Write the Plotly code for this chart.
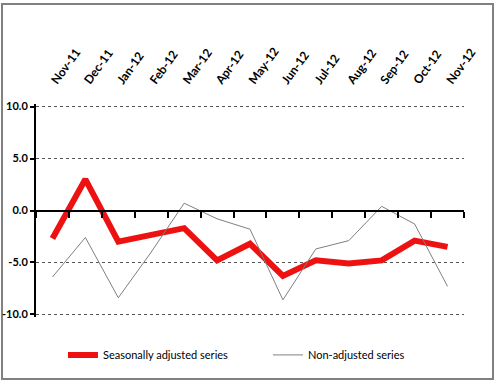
import plotly.graph_objects as go

months = ["Nov-11", "Dec-11", "Jan-12", "Feb-12", "Mar-12", "Apr-12", "May-12",
          "Jun-12", "Jul-12", "Aug-12", "Sep-12", "Oct-12", "Nov-12"]
seasonally_adjusted = [-2.7, 3.0, -3.0, -2.3, -1.7, -4.8, -3.2, -6.3, -4.8, -5.1, -4.8, -2.9, -3.5]
non_adjusted = [-6.4, -2.6, -8.4, -4.0, 0.7, -0.8, -1.8, -8.6, -3.7, -2.9, 0.4, -1.3, -7.3]
y_ticks = [10, 5, 0, -5, -10]
y_tick_labels = ["10.0", "5.0", "0.0", "-5.0", "-10.0"]

FONT = "Lato, sans-serif"

fig = go.Figure()
fig.add_trace(go.Scatter(
    x=months, y=seasonally_adjusted, mode="lines", name="Seasonally adjusted series",
    line=dict(color="#ee1111", width=6), xaxis="x", yaxis="y"))
fig.add_trace(go.Scatter(
    x=months, y=non_adjusted, mode="lines", name="Non-adjusted series",
    line=dict(color="#7f7f7f", width=1), xaxis="x2", yaxis="y"))

fig.update_layout(
    width=500, height=384,
    margin=dict(l=36, r=36, t=104, b=67),
    paper_bgcolor="white", plot_bgcolor="white",
    font=dict(family=FONT, size=11, color="black"),
    xaxis=dict(type="category", categoryarray=months, range=[-0.5, 12.5],
               side="top", tickangle=-54, showgrid=False, showline=False,
               ticks="", zeroline=False, automargin=False,
               tickfont=dict(family=FONT, size=12, color="black", weight="bold"),
               ticklabelstandoff=13),
    xaxis2=dict(type="category", categoryarray=months, range=[-0.5, 12.5],
                overlaying="x", anchor="free", position=0.5, side="bottom",
                showline=True, linecolor="black", linewidth=2,
                ticks="outside", tickson="boundaries", ticklen=6, tickwidth=2,
                tickcolor="black", showticklabels=False, showgrid=False,
                automargin=False),
    yaxis=dict(range=[-10.25, 10.25], tickvals=y_ticks, ticktext=y_tick_labels,
               showline=True, linecolor="black", linewidth=2,
               ticks="outside", ticklen=4, tickwidth=2, tickcolor="black",
               showgrid=True, gridcolor="#555555", griddash="3px,3px", gridwidth=1,
               zeroline=False, automargin=False,
               tickfont=dict(family=FONT, size=11, color="black", weight="bold")),
    legend=dict(orientation="h", x=0.063, y=-0.178, xanchor="left", yanchor="middle",
                entrywidth=160, entrywidthmode="pixels",
                font=dict(family=FONT, size=11, color="black"),
                bgcolor="rgba(0,0,0,0)"),
    shapes=[dict(type="rect", xref="paper", yref="paper",
                 x0=-0.0794, x1=1.0678, y0=-0.291, y1=1.47,
                 line=dict(color="#808080", width=2), fillcolor="rgba(0,0,0,0)",
                 layer="below")],
)

fig.write_html("out.html", config={"displayModeBar": False},
               post_script="document.body.style.margin='0';document.body.style.overflow='hidden';")
